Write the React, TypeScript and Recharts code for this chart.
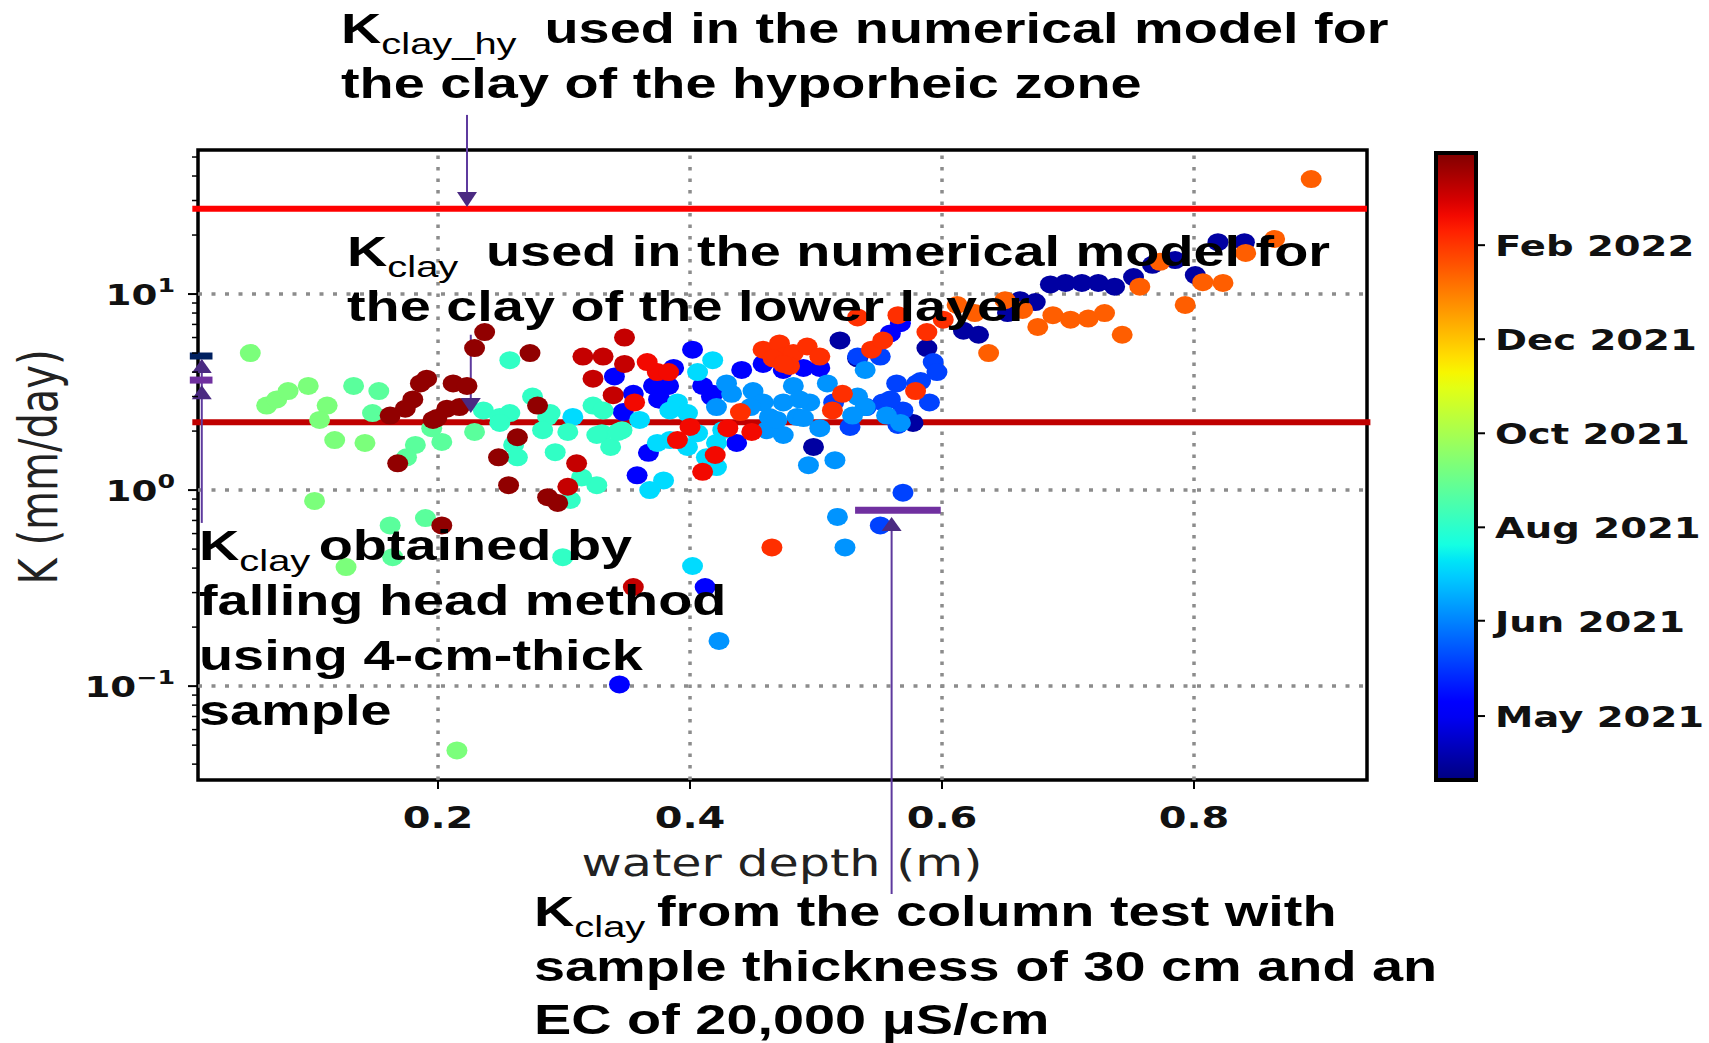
import React from "react";
import {
  ReferenceArea,
  ReferenceDot,
  ReferenceLine,
  Scatter,
  ScatterChart,
  XAxis,
  YAxis,
} from "recharts";

// axis ranges
const xDomain = [0.0095, 0.9373];
const yDomain = [0.0332, 54.3];
const xTicks = [0.2, 0.4, 0.6, 0.8];
const yMajorTicks = [0.1, 1, 10];
const yMinorTicks = [0.04, 0.05, 0.06, 0.07, 0.08, 0.09, 0.2, 0.3, 0.4, 0.5, 0.6, 0.7, 0.8, 0.9, 2, 3, 4, 5, 6, 7, 8, 9, 20, 30, 40, 50];

// colour bar (fraction of the colour map) and its date labels
const cbarLabels = ["Feb 2022", "Dec 2021", "Oct 2021", "Aug 2021", "Jun 2021", "May 2021"];
const cbarPos = [0.853, 0.703, 0.553, 0.403, 0.254, 0.102];

// points, grouped by sampling date (colour-map fraction t): [water depth m, K mm/day]
const navy: number[][] = [
  [0.819, 18.4], [0.84, 18.4], [0.801, 12.5], [0.785, 14.9], [0.767, 14.1], [0.752, 12.2], [0.737, 10.9],
  [0.724, 11.4], [0.711, 11.4], [0.698, 11.4], [0.686, 11.2], [0.674, 9.1], [0.662, 9.3], [0.652, 8.0],
  [0.629, 6.2], [0.617, 6.5], [0.588, 5.3], [0.533, 4.7], [0.519, 5.8], [0.577, 2.2], [0.498, 1.66],
];
const blue: number[][] = [
  [0.402, 5.2], [0.34, 3.8], [0.387, 4.2], [0.371, 3.4], [0.383, 3.4], [0.355, 3.1], [0.376, 2.9],
  [0.41, 3.4], [0.418, 3.1], [0.441, 4.1], [0.458, 4.4], [0.474, 4.1], [0.49, 4.2], [0.503, 4.2],
  [0.567, 7.1], [0.559, 6.3], [0.367, 1.55], [0.358, 1.19], [0.437, 1.74], [0.412, 0.32], [0.344, 0.102],
  [0.347, 2.5], [0.375, 2.9], [0.417, 3.0],
];
const royal: number[][] = [
  [0.533, 4.8], [0.551, 4.8], [0.593, 4.5], [0.596, 4.0], [0.564, 3.5], [0.58, 3.5], [0.583, 3.6],
  [0.514, 2.8], [0.553, 2.8], [0.59, 2.8], [0.54, 2.65], [0.569, 2.55], [0.559, 2.9], [0.565, 2.15],
  [0.527, 2.1], [0.551, 0.66], [0.569, 0.97],
];
const azure: number[][] = [
  [0.433, 3.1], [0.45, 3.2], [0.458, 2.8], [0.448, 2.65], [0.463, 2.36], [0.482, 3.4], [0.474, 2.8],
  [0.495, 2.8], [0.485, 2.36], [0.509, 3.5], [0.539, 4.1], [0.533, 3.0], [0.461, 2.02], [0.474, 1.91],
  [0.469, 2.28], [0.49, 2.33], [0.503, 2.07], [0.494, 1.34], [0.515, 1.42], [0.517, 0.73], [0.523, 0.51],
  [0.423, 0.17], [0.539, 2.65], [0.529, 2.4], [0.556, 2.4], [0.567, 2.2], [0.429, 3.5], [0.421, 2.65],
  [0.487, 2.9],
];
const sky: number[][] = [
  [0.418, 4.6], [0.406, 4.0], [0.39, 2.8], [0.398, 2.47], [0.36, 2.28], [0.368, 1.0], [0.379, 1.12],
  [0.374, 1.74], [0.384, 1.8], [0.398, 1.66], [0.406, 1.95], [0.413, 1.47], [0.421, 1.31], [0.402, 0.41],
  [0.426, 2.02], [0.421, 1.74], [0.384, 2.55], [0.307, 2.36],
];
const teal: number[][] = [
  [0.257, 4.6], [0.236, 2.55], [0.249, 2.36], [0.257, 2.47], [0.275, 3.0], [0.287, 2.36], [0.249, 2.2],
  [0.26, 1.7], [0.263, 1.47], [0.283, 2.02], [0.293, 1.56], [0.303, 1.98], [0.299, 0.455], [0.323, 2.7],
  [0.331, 2.55], [0.305, 0.89], [0.326, 1.06], [0.33, 1.95], [0.337, 1.66], [0.346, 2.02], [0.314, 1.16],
  [0.326, 1.91], [0.343, 1.98], [0.289, 2.47],
];
const mint: number[][] = [
  [0.133, 3.4], [0.153, 3.2], [0.148, 2.47], [0.182, 1.7], [0.175, 1.47], [0.195, 2.07], [0.203, 1.76],
  [0.229, 1.98], [0.162, 0.66], [0.19, 0.72], [0.164, 0.455],
];
const green: number[][] = [
  [0.051, 5.0], [0.064, 2.7], [0.072, 2.9], [0.081, 3.2], [0.097, 3.4], [0.112, 2.7], [0.106, 2.28],
  [0.118, 1.8], [0.142, 1.74], [0.102, 0.88], [0.127, 0.405], [0.215, 0.047],
];
const orange: number[][] = [
  [0.893, 38.6], [0.864, 19.1], [0.841, 16.2], [0.773, 14.6], [0.757, 10.9], [0.807, 11.5], [0.823, 11.4],
  [0.793, 8.8], [0.65, 9.3], [0.664, 8.3], [0.688, 7.8], [0.676, 6.8], [0.702, 7.4], [0.716, 7.5],
  [0.729, 8.0], [0.743, 6.2], [0.637, 5.0], [0.612, 8.8], [0.626, 8.0],
];
const redOrange: number[][] = [
  [0.458, 5.2], [0.471, 5.6], [0.474, 4.8], [0.482, 5.0], [0.479, 4.3], [0.493, 5.4], [0.503, 4.8],
  [0.466, 4.7], [0.474, 4.4], [0.544, 5.2], [0.553, 5.8], [0.565, 7.8], [0.533, 7.6], [0.588, 6.4],
  [0.601, 7.4], [0.579, 3.2], [0.521, 3.1], [0.513, 2.55], [0.44, 2.5], [0.465, 0.51],
];
const red: number[][] = [
  [0.374, 4.0], [0.383, 4.0], [0.39, 1.8], [0.4, 2.1], [0.42, 1.51], [0.41, 1.24], [0.43, 2.07],
  [0.449, 1.98], [0.356, 2.8], [0.366, 4.5],
];
const crimson: number[][] = [
  [0.315, 4.8], [0.331, 4.8], [0.348, 6.0], [0.348, 4.4], [0.323, 3.7], [0.339, 3.05], [0.31, 1.37],
  [0.303, 1.04], [0.355, 0.32],
];
const darkRed: number[][] = [
  [0.237, 6.4], [0.229, 5.3], [0.273, 5.0], [0.191, 3.7], [0.186, 3.5], [0.18, 2.9], [0.174, 2.6],
  [0.162, 2.4], [0.212, 3.5], [0.223, 3.4], [0.207, 2.6], [0.199, 2.33], [0.217, 2.65], [0.196, 2.28],
  [0.279, 2.7], [0.168, 1.37], [0.263, 1.86], [0.248, 1.47], [0.256, 1.06], [0.287, 0.92], [0.295, 0.86],
  [0.203, 0.66],
];

const groups: { t: number; pts: number[][] }[] = [
  { t: 0.03, pts: navy },
  { t: 0.12, pts: blue },
  { t: 0.19, pts: royal },
  { t: 0.27, pts: azure },
  { t: 0.34, pts: sky },
  { t: 0.41, pts: teal },
  { t: 0.46, pts: mint },
  { t: 0.5, pts: green },
  { t: 0.81, pts: orange },
  { t: 0.86, pts: redOrange },
  { t: 0.9, pts: red },
  { t: 0.94, pts: crimson },
  { t: 0.985, pts: darkRed },
];

// model / lab K values
const kClayHy = 27.2;
const kClay = 2.22;
const kFallingHead = [4.83, 3.64];
const kColumn = 0.79;

// matplotlib "jet"
function lerp(t: number, pts: number[][]) {
  for (let i = 1; i < pts.length; i++) {
    if (t <= pts[i][0]) {
      const [x0, y0] = pts[i - 1];
      const [x1, y1] = pts[i];
      return y0 + ((t - x0) / (x1 - x0)) * (y1 - y0);
    }
  }
  return pts[pts.length - 1][1];
}
function jet(t: number) {
  const r = lerp(t, [[0, 0], [0.35, 0], [0.66, 1], [0.89, 1], [1, 0.5]]);
  const g = lerp(t, [[0, 0], [0.125, 0], [0.375, 1], [0.64, 1], [0.91, 0], [1, 0]]);
  const b = lerp(t, [[0, 0.5], [0.11, 1], [0.34, 1], [0.65, 0], [1, 0]]);
  const h = (v: number) => Math.round(Math.max(0, Math.min(1, v)) * 255).toString(16).padStart(2, "0");
  return `#${h(r)}${h(g)}${h(b)}`;
}

const SX = 1.33; // the source figure is stretched horizontally
const purple = "#5e3a9e";
const boldSans = "'Liberation Sans', Arial, sans-serif";
const dejavu = "'DejaVu Sans', sans-serif";

const Dot = (p: any) => <ellipse cx={p.cx} cy={p.cy} rx={10.5} ry={9} fill={p.fill} />;
const TriDown = (p: any) => (
  <polygon points={`${p.cx - 10},${p.cy - 15} ${p.cx + 10},${p.cy - 15} ${p.cx},${p.cy}`} fill="#4b2a82" />
);
const TriUp = (p: any) => (
  <polygon points={`${p.cx - 10},${p.cy + 14} ${p.cx + 10},${p.cy + 14} ${p.cx},${p.cy}`} fill="#4b2a82" />
);

const XTick = (p: any) => {
  const { x, y, payload } = p;
  return (
    <g>
      <line x1={x} y1={y} x2={x} y2={y + 9} stroke="#000" strokeWidth={2} />
      <text
        transform={`translate(${x},${y + 48}) scale(${SX},1)`}
        textAnchor="middle"
        fontFamily={dejavu}
        fontWeight="bold"
        fontSize={30}
        fill="#111"
      >
        {Number(payload.value).toFixed(1)}
      </text>
    </g>
  );
};

const YTick = (p: any) => {
  const { x, y, payload } = p;
  const v = Number(payload.value);
  const major = yMajorTicks.includes(v);
  const exp = Math.round(Math.log10(v));
  return (
    <g>
      <line x1={x - (major ? 10 : 6)} y1={y} x2={x} y2={y} stroke="#000" strokeWidth={major ? 2 : 1.5} />
      {major && (
        <text
          transform={`translate(${x - 23},${y + 11}) scale(${SX},1)`}
          textAnchor="end"
          fontFamily={dejavu}
          fontWeight="bold"
          fontSize={28}
          fill="#111"
        >
          10
          <tspan fontSize={19} dy={-13}>
            {exp < 0 ? `\u2212${-exp}` : exp}
          </tspan>
        </text>
      )}
    </g>
  );
};

function Note({ x, y, sub, gap, children }: { x: number; y: number; sub?: string; gap?: number; children: string }) {
  return (
    <text transform={`translate(${x},${y}) scale(${SX},1)`} fontFamily={boldSans} fontWeight="bold" fontSize={42} fill="#000">
      {sub ? (
        <>
          K
          <tspan fontSize={30} fontWeight="normal" dy={11}>
            {sub}
          </tspan>
          <tspan x={gap} dy={-11}>
            {children}
          </tspan>
        </>
      ) : (
        children
      )}
    </text>
  );
}

const cbar = { x: 1436, y: 153, w: 40, h: 627 };

export default function App() {
  const stops = Array.from({ length: 41 }, (_, i) => i / 40);
  return (
    <div style={{ position: "relative", width: 1709, height: 1043, background: "#fff" }}>
      <style>{`body{margin:0}`}</style>
      <ScatterChart width={1709} height={1043} margin={{ top: 150, right: 342, bottom: 203, left: 98 }}>
        <XAxis
          type="number"
          dataKey="x"
          domain={xDomain}
          allowDataOverflow
          ticks={xTicks}
          interval={0}
          tick={XTick}
          tickLine={false}
          axisLine={false}
          tickSize={0}
          tickMargin={0}
          height={60}
        />
        <YAxis
          type="number"
          dataKey="k"
          scale="log"
          domain={yDomain}
          allowDataOverflow
          ticks={[...yMinorTicks, ...yMajorTicks].sort((a, b) => a - b)}
          interval={0}
          tick={YTick}
          tickLine={false}
          axisLine={false}
          tickSize={0}
          tickMargin={0}
          width={100}
        />
        {xTicks.map((v) => (
          <ReferenceLine key={`gx${v}`} x={v} stroke="#8c8c8c" strokeWidth={3.5} strokeDasharray="3.5 8" />
        ))}
        {yMajorTicks.map((v) => (
          <ReferenceLine key={`gy${v}`} y={v} stroke="#8c8c8c" strokeWidth={3.5} strokeDasharray="4 9.5" />
        ))}
        {groups.map((g, i) => (
          <Scatter
            key={i}
            data={g.pts.map(([x, k]) => ({ x, k }))}
            fill={jet(g.t)}
            shape={Dot}
            isAnimationActive={false}
          />
        ))}
        <ReferenceLine
          segment={[{ x: 0.005, y: kClayHy }, { x: 0.9373, y: kClayHy }]}
          stroke="#ff0000"
          strokeWidth={6}
          ifOverflow="visible"
        />
        <ReferenceLine
          segment={[{ x: 0.005, y: kClay }, { x: 0.94, y: kClay }]}
          stroke="#c00000"
          strokeWidth={6}
          ifOverflow="visible"
        />
        {/* arrow to K_clay_hy */}
        <ReferenceLine segment={[{ x: 0.223, y: 82 }, { x: 0.223, y: 30 }]} stroke={purple} strokeWidth={2} ifOverflow="visible" />
        <ReferenceDot x={0.223} y={27.8} shape={TriDown} ifOverflow="visible" />
        {/* arrow to K_clay */}
        <ReferenceLine segment={[{ x: 0.226, y: 6.2 }, { x: 0.226, y: 2.9 }]} stroke={purple} strokeWidth={2} ifOverflow="visible" />
        <ReferenceDot x={0.226} y={2.47} shape={TriDown} ifOverflow="visible" />
        {/* falling head values */}
        <ReferenceLine segment={[{ x: 0.0125, y: 0.68 }, { x: 0.0125, y: 4.6 }]} stroke={purple} strokeWidth={2} ifOverflow="visible" />
        <ReferenceLine
          segment={[{ x: 0.003, y: kFallingHead[0] }, { x: 0.021, y: kFallingHead[0] }]}
          stroke="#002060"
          strokeWidth={7}
          ifOverflow="visible"
        />
        <ReferenceLine
          segment={[{ x: 0.003, y: kFallingHead[1] }, { x: 0.021, y: kFallingHead[1] }]}
          stroke="#7030a0"
          strokeWidth={7}
          ifOverflow="visible"
        />
        <ReferenceDot x={0.0125} y={4.66} shape={TriUp} ifOverflow="visible" />
        <ReferenceDot x={0.0125} y={3.43} shape={TriUp} ifOverflow="visible" />
        {/* column test value */}
        <ReferenceLine
          segment={[{ x: 0.531, y: kColumn }, { x: 0.599, y: kColumn }]}
          stroke="#7030a0"
          strokeWidth={7}
          ifOverflow="visible"
        />
        <ReferenceLine segment={[{ x: 0.56, y: 0.7 }, { x: 0.56, y: 0.0087 }]} stroke={purple} strokeWidth={2} ifOverflow="visible" />
        <ReferenceDot x={0.56} y={0.73} shape={TriUp} ifOverflow="visible" />
        <ReferenceArea
          x1={xDomain[0]}
          x2={xDomain[1]}
          y1={yDomain[0]}
          y2={yDomain[1]}
          fill="none"
          stroke="#000"
          strokeWidth={3.5}
          ifOverflow="visible"
        />
      </ScatterChart>

      <svg width={1709} height={1043} style={{ position: "absolute", left: 0, top: 0, pointerEvents: "none" }}>
        <defs>
          <linearGradient id="jetbar" x1="0" y1="1" x2="0" y2="0">
            {stops.map((s) => (
              <stop key={s} offset={s} stopColor={jet(s)} />
            ))}
          </linearGradient>
        </defs>
        <rect x={cbar.x} y={cbar.y} width={cbar.w} height={cbar.h} fill="url(#jetbar)" stroke="#000" strokeWidth={4} />
        {cbarLabels.map((lab, i) => {
          const y = cbar.y + cbar.h * (1 - cbarPos[i]);
          return (
            <g key={lab}>
              <line x1={cbar.x + cbar.w} x2={cbar.x + cbar.w + 9} y1={y} y2={y} stroke="#000" strokeWidth={2} />
              <text
                transform={`translate(1495,${y + 11}) scale(${SX},1)`}
                fontFamily={dejavu}
                fontWeight="bold"
                fontSize={29}
                fill="#111"
              >
                {lab}
              </text>
            </g>
          );
        })}

        <text transform={`translate(782,876) scale(${SX},1)`} textAnchor="middle" fontFamily={dejavu} fontSize={37} fill="#222">
          water depth (m)
        </text>
        <text transform={`translate(57,467) scale(${SX},1) rotate(-90)`} textAnchor="middle" fontFamily={dejavu} fontSize={40} fill="#222">
          K (mm/day)
        </text>

        <Note x={341} y={43} sub="clay_hy" gap={153}>used in the numerical model for</Note>
        <Note x={341} y={98}>the clay of the hyporheic zone</Note>

        <Note x={347} y={266} sub="clay" gap={104.5}>used in the numerical model for</Note>
        <Note x={347} y={321}>the clay of the lower layer</Note>

        <Note x={199} y={560} sub="clay" gap={90}>obtained by</Note>
        <Note x={199} y={615}>falling head method</Note>
        <Note x={199} y={670}>using 4-cm-thick</Note>
        <Note x={199} y={725}>sample</Note>

        <Note x={534} y={926} sub="clay" gap={92.5}>from the column test with</Note>
        <Note x={534} y={981}>sample thickness of 30 cm and an</Note>
        <Note x={534} y={1034}>EC of 20,000 μS/cm</Note>
      </svg>
    </div>
  );
}
